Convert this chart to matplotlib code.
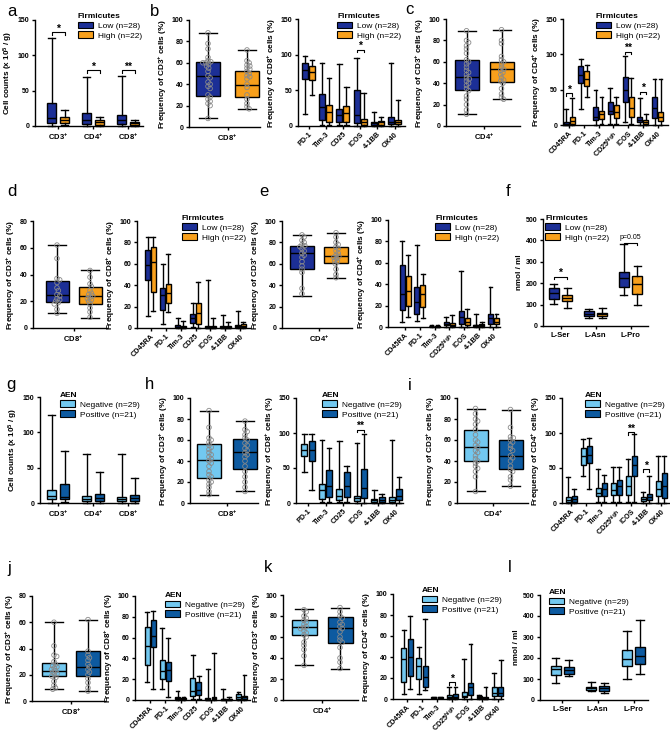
import matplotlib
matplotlib.use('Agg')
import matplotlib.pyplot as plt
from matplotlib.patches import Patch
import numpy as np

plt.rcParams['font.family'] = ['Liberation Sans', 'DejaVu Sans']
plt.rcParams['mathtext.fontset'] = 'custom'
plt.rcParams['mathtext.rm'] = 'Liberation Sans'
plt.rcParams['mathtext.bf'] = 'Liberation Sans:bold'
plt.rcParams['mathtext.default'] = 'regular'

# ---------------- colours & labels ----------------
LOW, HIGH = '#1c2f96', '#f8a01c'
NEG, POS = '#72c8f0', '#0d5aa0'
FIRM_LABELS = ['Low (n=28)', 'High (n=22)']
AEN_LABELS = ['Negative (n=29)', 'Positive (n=21)']

# ---------------- categories ----------------
count_cats = ['CD3$^{+}$', 'CD4$^{+}$', 'CD8$^{+}$']
cd8_cats = ['PD-1', 'Tim-3', 'CD25', 'ICOS', '4-1BB', 'OX40']
cd4_cats = ['CD45RA', 'PD-1', 'Tim-3', 'CD25$^{high}$', 'ICOS', '4-1BB', 'OX40']
cd8b_cats = ['CD45RA', 'PD-1', 'Tim-3', 'CD25', 'ICOS', '4-1BB', 'OX40']
aa_cats = ['L-Ser', 'L-Asn', 'L-Pro']
cd8_single = ['CD8$^{+}$']
cd4_single = ['CD4$^{+}$']

# ---------------- box statistics (min, q1, median, q3, max) ----------------
a_low = [(0.5, 4, 11, 33, 124), (0.5, 3, 9, 18, 69), (0.5, 3, 8, 16, 71)]
a_high = [(1, 4, 9, 13, 23), (0.5, 2, 5, 8, 13), (0.5, 2, 4, 6, 9)]

b1_low = [(8, 29, 48, 61, 88)]
b1_high = [(17, 28, 39, 52, 72)]
b2_low = [(17, 66, 78, 89, 98), (1, 8, 27, 45, 89), (1, 6, 15, 24, 87),
          (0, 4, 15, 50, 96), (0, 1, 4, 6, 19), (0, 3, 6, 12, 89)]
b2_high = [(44, 64, 76, 84, 92), (1, 6, 19, 29, 67), (1, 5, 18, 28, 54),
           (0, 2, 5, 10, 46), (0, 2, 5, 7, 13), (0, 3, 6, 9, 36)]

c1_low = [(11, 34, 46, 62, 89)]
c1_high = [(25, 41, 53, 60, 90)]
c2_low = [(0, 0.5, 2, 4, 22), (22, 59, 71, 83, 94), (0, 7, 12, 25, 50), (1, 15, 20, 33, 52),
          (4, 33, 50, 68, 97), (0, 4, 7, 12, 38), (0, 10, 24, 40, 65)]
c2_high = [(0, 2, 5, 11, 38), (40, 55, 65, 77, 85), (1, 8, 15, 20, 40), (2, 10, 19, 29, 40),
           (2, 11, 24, 39, 67), (0, 2, 4, 7, 15), (0, 5, 12, 19, 65)]

d1_low = [(11, 19.5, 25, 35, 62)]
d1_high = [(7.5, 18, 24, 31, 43)]
d2_low = [(11, 45, 59, 73, 85), (4, 17, 30.5, 37, 60), (0, 0.6, 1.2, 2.5, 9), (1, 5, 9, 13, 23),
          (0, 0.3, 1, 2, 45), (0, 0.3, 1, 2, 12), (0, 0.5, 1.5, 3, 16)]
d2_high = [(16, 34, 62, 76, 85), (15, 23, 33, 41, 69), (0, 0.3, 1, 2, 7), (0, 3.5, 14, 23, 43),
           (0, 0.3, 0.6, 2, 9), (0, 0.3, 1, 2, 6), (0, 0.5, 2, 4, 6)]

e1_low = [(30, 55, 70, 77, 87)]
e1_high = [(47, 61, 67, 76, 89)]
e2_low = [(5, 16, 31, 58, 80), (6, 12.5, 23, 37.5, 77), (0.3, 0.6, 1, 1.2, 2), (0, 1.5, 3, 5, 9),
          (0, 3, 9, 15, 52), (0, 0.5, 1.5, 2, 12), (0, 3, 8, 12.5, 37)]
e2_high = [(9, 20, 34, 48, 67), (8, 19, 31, 39, 50), (0, 0.3, 0.6, 1, 1.5), (0, 1, 2, 4, 11),
           (0, 2, 5, 8, 17), (0, 1, 2, 3, 5), (0, 2.5, 5, 8, 12.5)]

f_low = [(105, 125, 152, 178, 198), (37, 45, 58, 69, 81), (147, 183, 222, 253, 383)]
f_high = [(84, 116, 131, 144, 178), (39, 47, 55, 62, 86), (100, 150, 194, 233, 281)]

g_neg = [(0.5, 5, 10, 18, 124), (0.5, 3, 6, 10, 69), (0.5, 3, 6, 9, 70)]
g_pos = [(2, 5, 9, 27, 74), (0.5, 3, 7, 13, 44), (0.5, 3, 7, 12, 36)]

h1_neg = [(8, 24, 41, 56, 88)]
h1_pos = [(11, 32, 49, 61, 78)]
h2_neg = [(45, 67, 76, 84, 99), (1, 6, 18, 27, 90), (1, 5, 10, 20, 88),
          (0.5, 3, 7, 10, 86), (0, 2, 4, 6, 18), (0, 2, 5, 9, 90)]
h2_pos = [(18, 60, 76, 88, 98), (1, 9, 24, 47, 78), (1, 9, 24, 44, 53),
          (0.5, 7, 21, 49, 98), (0, 2, 5, 9, 13), (0, 5, 10, 20, 37)]

i1_neg = [(11, 40, 53, 69.5, 90)]
i1_pos = [(16, 32.5, 45, 60, 89)]
i2_neg = [(0, 2, 5, 9, 37), (39, 55, 67, 79, 91), (1, 9.5, 14, 21, 49), (2, 12, 19, 29, 52),
          (2, 12, 24, 39, 63), (0, 3, 6, 9, 16), (0, 9.5, 20, 32, 67)]
i2_pos = [(0, 2, 6, 10, 20), (20, 57, 68, 82, 93), (2, 10, 20, 29, 40), (2, 12, 24, 33, 52),
          (2, 38, 55, 67, 98), (0, 5, 9, 13, 39), (0, 7, 25, 43, 67)]

j1_neg = [(9, 19, 23, 29, 60)]
j1_pos = [(7.5, 19, 26, 38, 62)]
j2_neg = [(17, 34, 52, 70, 85), (11, 20, 28, 38, 69), (0, 0.6, 1.5, 2.5, 9), (1, 4, 9, 21, 43),
          (0, 0.3, 1, 1.5, 30), (0, 0.2, 0.5, 1, 11), (0, 1, 3, 6, 8)]
j2_pos = [(11, 51, 62, 77, 86), (3, 18, 29, 37, 60), (0, 0.5, 1.5, 2, 3), (1, 5, 10, 17, 23),
          (0, 0.5, 1.5, 3, 45), (0, 0.2, 0.5, 1, 2.5), (0, 1, 2.5, 4, 24)]

k1_neg = [(33, 62, 70, 76, 86.5)]
k1_pos = [(30, 54.5, 69, 79, 88)]
k2_neg = [(5, 16, 38, 49, 66), (5, 19, 31.5, 39, 50), (0.5, 1, 1.2, 1.5, 2), (0, 0.7, 1.5, 4, 11),
          (0, 1.5, 3, 7, 38), (0, 0.5, 1.5, 2.5, 4), (0, 2.5, 5.5, 11, 25)]
k2_pos = [(10, 22, 40, 57, 79.5), (9, 11, 21, 31, 76), (0.5, 1, 1.2, 1.5, 2), (0, 0.6, 2, 5, 11),
          (0, 4, 11, 15, 52), (0, 0.3, 0.6, 1.5, 11), (0, 2.5, 6, 11, 37)]

l_neg = [(82, 121, 148, 164, 200), (41, 47, 55, 63, 85), (101, 161, 196, 237, 330)]
l_pos = [(114, 126, 145, 158, 189), (35, 43, 58, 69, 79), (125, 172, 211, 252, 382)]

# ---------------- individual points (single-population panels) ----------------
b1_low_pts = [88, 78, 73, 65, 62, 61, 60, 60, 59, 57, 55, 52, 48, 46, 42, 40, 38, 36, 30, 28, 26, 24, 22, 20, 8]
b1_high_pts = [72, 62, 60, 58, 57, 55, 54, 52, 50, 48, 47, 45, 40, 37, 30, 26, 22, 19, 17]
c1_low_pts = [89, 80, 78, 75, 72, 68, 62, 60, 58, 55, 52, 50, 48, 45, 44, 42, 40, 38, 35, 33, 28, 25, 20, 15, 11]
c1_high_pts = [90, 80, 77, 65, 62, 60, 58, 55, 53, 52, 50, 48, 45, 43, 42, 40, 35, 30, 27, 25]
d1_low_pts = [62, 52, 37, 36, 34, 30, 28, 25, 24, 22, 21, 20, 19, 18, 14, 11]
d1_high_pts = [43, 38, 33, 31, 28, 26, 25, 24, 23, 22, 21, 20, 18, 15, 12, 8]
e1_low_pts = [87, 85, 82, 80, 78, 77, 76, 74, 72, 70, 68, 66, 62, 58, 55, 52, 37, 32]
e1_high_pts = [89, 85, 80, 78, 76, 74, 72, 70, 68, 67, 66, 65, 63, 62, 60, 55, 50, 47]
h1_neg_pts = [88, 72, 62, 60, 58, 55, 53, 51, 48, 46, 44, 42, 40, 38, 35, 30, 27, 25, 22, 20, 18, 15, 11, 8]
h1_pos_pts = [78, 70, 68, 65, 62, 60, 57, 55, 52, 50, 48, 46, 44, 40, 35, 30, 25, 20, 15, 11]
i1_neg_pts = [90, 85, 80, 78, 75, 70, 65, 60, 58, 55, 53, 50, 48, 45, 42, 40, 38, 35, 33, 30, 25, 11]
i1_pos_pts = [89, 72, 63, 62, 60, 58, 55, 52, 50, 45, 43, 40, 35, 32, 30, 25, 22, 16]
j1_neg_pts = [60, 42, 35, 34, 30, 28, 27, 26, 25, 24, 23, 22, 21, 20, 19, 18, 15, 12, 10, 9]
j1_pos_pts = [62, 38, 35, 33, 31, 28, 26, 24, 22, 20, 17, 14, 10, 7.5]
k1_neg_pts = [86, 84, 80, 78, 76, 74, 72, 70, 69, 68, 66, 64, 62, 60, 55, 52, 48, 42, 33]
k1_pos_pts = [88, 84, 80, 78, 74, 72, 70, 68, 65, 60, 57, 55, 50, 40, 36, 30]

# ---------------- drawing ----------------
W, H = 670, 735
fig = plt.figure(figsize=(6.7, 7.35), dpi=100)

TICK_FS = 5.0
LAB_FS = 5.9
CAT_FS = 5.5
ROT_FS = 5.2
LEG_FS = 6.0


def swarm(vals, ppu, d=3.0):
    placed, xs = [], []
    for v in vals:
        y = v * ppu
        cand = [0.0]
        for (px, py) in placed:
            dy = y - py
            if abs(dy) < d:
                dx = np.sqrt(d * d - dy * dy)
                cand += [px + dx, px - dx]
        cand.sort(key=abs)
        cx = 0.0
        for c in cand:
            if all((c - px) ** 2 + (y - py) ** 2 >= d * d - 1e-6 for px, py in placed):
                cx = c
                break
        placed.append((cx, y))
        xs.append(cx)
    return np.array(xs)


def panel(rect, cats, groups, cols, ytop, ystep, ylabel, c_first, c_last, off, bw,
          rot=False, legend=None, sig=(), points=None):
    x0, x1, y0, y1 = rect
    ax = fig.add_axes([x0 / W, 1 - y1 / H, (x1 - x0) / W, (y1 - y0) / H])
    n = len(cats)
    u = (c_last - c_first) / (n - 1) if n > 1 else 40.0
    ax.set_xlim((x0 - c_first) / u, (x1 - c_first) / u)
    ax.set_ylim(0, ytop)
    base = np.arange(n, dtype=float)
    offs = [-off / u, off / u]
    lw = 1.0
    for k, (g, c) in enumerate(zip(groups, cols)):
        stats = [dict(whislo=s[0], q1=s[1], med=s[2], q3=s[3], whishi=s[4], fliers=[]) for s in g]
        art = ax.bxp(stats, positions=base + offs[k], widths=bw / u, patch_artist=True,
                     showfliers=False, manage_ticks=False,
                     boxprops=dict(facecolor=c, edgecolor='black', linewidth=lw),
                     medianprops=dict(color='black', linewidth=lw),
                     whiskerprops=dict(color='black', linewidth=lw),
                     capprops=dict(color='black', linewidth=lw),
                     capwidths=bw / u * 0.75)
        for key in art:
            for a in art[key]:
                a.set_clip_on(False)
    if points is not None:
        ppu = (y1 - y0) / ytop
        for k, pts in enumerate(points):
            xs = swarm(pts, ppu) / u
            ax.scatter(base[0] + offs[k] + xs, pts, s=11, facecolors='none',
                       edgecolors='#8a8a8a', linewidths=0.6, zorder=5, clip_on=False)
    # axes styling
    for s in ['top', 'right']:
        ax.spines[s].set_visible(False)
    for s in ['left', 'bottom']:
        ax.spines[s].set_linewidth(1.0)
    ax.set_yticks(np.arange(0, ytop + 0.1, ystep))
    ax.set_yticklabels([f'{int(v)}' for v in np.arange(0, ytop + 0.1, ystep)],
                       fontsize=TICK_FS, fontweight='bold')
    ax.set_xticks(base)
    if rot:
        ax.set_xticklabels(cats, rotation=45, ha='right', rotation_mode='anchor',
                           fontsize=ROT_FS, fontweight='bold')
    else:
        ax.set_xticklabels(cats, fontsize=CAT_FS, fontweight='bold')
    ax.tick_params(axis='both', direction='out', length=2.5, width=1.0, pad=1.5)
    if rot:
        ax.tick_params(axis='x', pad=1.0)
    ax.set_ylabel(ylabel, fontsize=LAB_FS, fontweight='bold', labelpad=2)
    # legend
    if legend is not None:
        title, labels, (lx, ly) = legend
        handles = [Patch(facecolor=c, edgecolor='black', linewidth=0.8) for c in cols]
        ax.legend(handles=handles, labels=labels, title=title, loc='upper left',
                  bbox_to_anchor=((lx - x0) / (x1 - x0), (y1 - ly) / (y1 - y0)),
                  frameon=False, fontsize=LEG_FS,
                  title_fontproperties={'weight': 'bold', 'size': LEG_FS},
                  handlelength=1.8, handleheight=0.9, handletextpad=0.6,
                  labelspacing=0.18, borderpad=0, borderaxespad=0, alignment='left')
    # significance brackets
    t = ytop * 2.5 / (y1 - y0)
    for (ci, yv, txt) in sig:
        xa, xb = base[ci] + offs[0], base[ci] + offs[1]
        ax.plot([xa, xa, xb, xb], [yv - t, yv, yv, yv - t], color='black', lw=0.8, clip_on=False)
        if txt.startswith('p'):
            ax.text((xa + xb) / 2, yv + t * 0.8, txt, ha='center', va='bottom', fontsize=5)
        else:
            ax.text((xa + xb) / 2, yv + t * 0.2, txt, ha='center', va='baseline',
                    fontsize=7.5, fontweight='bold')
    return ax


YL_CNT = 'Cell counts (x 10$^{5}$ / g)'
YL_CD3 = 'Frequency of CD3$^{+}$ cells (%)'
YL_CD8 = 'Frequency of CD8$^{+}$ cells (%)'
YL_CD4 = 'Frequency of CD4$^{+}$ cells (%)'
YL_AA = 'nmol / ml'

# Row 1
panel((35, 143, 20, 126), count_cats, [a_low, a_high], [LOW, HIGH], 150, 50, YL_CNT,
      58, 128, 6.5, 9.5, legend=('Firmicutes', FIRM_LABELS, (78, 13)),
      sig=[(0, 133, '*'), (1, 79, '*'), (2, 79, '**')])
panel((189, 260, 20, 127), cd8_single, [b1_low, b1_high], [LOW, HIGH], 100, 20, YL_CD3,
      227.5, 227.5, 19.5, 24, points=[b1_low_pts, b1_high_pts])
panel((298, 405, 19, 126), cd8_cats, [b2_low, b2_high], [LOW, HIGH], 150, 50, YL_CD8,
      308.5, 394.5, 3.5, 6, rot=True, legend=('Firmicutes', FIRM_LABELS, (337, 13)),
      sig=[(3, 107, '*')])
panel((446, 520, 19, 126), cd4_single, [c1_low, c1_high], [LOW, HIGH], 100, 20, YL_CD3,
      484, 484, 17.5, 24, points=[c1_low_pts, c1_high_pts])
panel((563, 668, 19, 125), cd4_cats, [c2_low, c2_high], [LOW, HIGH], 150, 50, YL_CD4,
      569, 657.5, 3, 5, rot=True, legend=('Firmicutes', FIRM_LABELS, (596, 13)),
      sig=[(0, 45, '*'), (4, 104, '**'), (5, 47, '*')])

# Row 2
panel((33, 107, 221, 328), cd8_single, [d1_low, d1_high], [LOW, HIGH], 80, 20, YL_CD3,
      73.5, 73.5, 16.5, 23, points=[d1_low_pts, d1_high_pts])
panel((137, 250, 221, 328), cd8b_cats, [d2_low, d2_high], [LOW, HIGH], 100, 20, YL_CD8,
      150.5, 240.5, 2.7, 5, rot=True, legend=('Firmicutes', FIRM_LABELS, (182, 215)))
panel((282, 352, 221, 328), cd4_single, [e1_low, e1_high], [LOW, HIGH], 100, 20, YL_CD3,
      319, 319, 17, 24, points=[e1_low_pts, e1_high_pts])
panel((388, 500, 220, 327), cd4_cats, [e2_low, e2_high], [LOW, HIGH], 100, 20, YL_CD4,
      405, 493.5, 3, 5, rot=True, legend=('Firmicutes', FIRM_LABELS, (435, 215)))
panel((543, 648, 219, 326), aa_cats, [f_low, f_high], [LOW, HIGH], 500, 100, YL_AA,
      560.5, 630.5, 6.8, 10, legend=('Firmicutes', FIRM_LABELS, (545, 215)),
      sig=[(0, 231, '*'), (2, 390, 'p=0.05')])

# Row 3
panel((40, 138, 397, 503), count_cats, [g_neg, g_pos], [NEG, POS], 150, 50, YL_CNT,
      58, 128, 6.5, 9.5, legend=('AEN', AEN_LABELS, (60, 392)))
panel((190, 258, 398, 503), cd8_single, [h1_neg, h1_pos], [NEG, POS], 100, 20, YL_CD3,
      227, 227, 18, 24, points=[h1_neg_pts, h1_pos_pts])
panel((296, 403, 398, 503), cd8_cats, [h2_neg, h2_pos], [NEG, POS], 150, 50, YL_CD8,
      308, 395.5, 3.7, 6, rot=True, legend=('AEN', AEN_LABELS, (322, 392)),
      sig=[(3, 105, '**')])
panel((457, 528, 398, 503), cd4_single, [i1_neg, i1_pos], [NEG, POS], 100, 20, YL_CD3,
      493, 493, 17.5, 24, points=[i1_neg_pts, i1_pos_pts])
panel((562, 670, 398, 503), cd4_cats, [i2_neg, i2_pos], [NEG, POS], 150, 50, YL_CD4,
      571, 661, 3, 5, rot=True, legend=('AEN', AEN_LABELS, (585, 392)),
      sig=[(4, 101, '**'), (5, 48, '*')])

# Row 4
panel((32, 105, 596, 701), cd8_single, [j1_neg, j1_pos], [NEG, POS], 80, 20, YL_CD3,
      71, 71, 17, 24, points=[j1_neg_pts, j1_pos_pts])
panel((135, 250, 596, 700), cd8b_cats, [j2_neg, j2_pos], [NEG, POS], 100, 20, YL_CD8,
      150, 241.5, 3, 5, rot=True, legend=('AEN', AEN_LABELS, (165, 592)))
panel((283, 358, 595, 700), cd4_single, [k1_neg, k1_pos], [NEG, POS], 100, 20, YL_CD3,
      322, 322, 18, 25, points=[k1_neg_pts, k1_pos_pts])
panel((393, 500, 594, 699), cd4_cats, [k2_neg, k2_pos], [NEG, POS], 100, 20, YL_CD4,
      407, 497.5, 3.2, 5, rot=True, legend=('AEN', AEN_LABELS, (422, 587)),
      sig=[(3, 16, '*')])
panel((540, 648, 595, 700), aa_cats, [l_neg, l_pos], [NEG, POS], 500, 100, YL_AA,
      562, 633.5, 6.5, 10, legend=('AEN', AEN_LABELS, (549, 589)))

# panel letters
letters = [('a', 12, 12), ('b', 155, 12), ('c', 409, 9), ('d', 12, 192), ('e', 264, 192),
           ('f', 508, 191), ('g', 11, 385), ('h', 150, 384), ('i', 410, 385),
           ('j', 9, 569), ('k', 268, 568), ('l', 510, 568)]
for t, x, y in letters:
    fig.text(x / W, 1 - y / H, t, fontsize=12, ha='center', va='center')

fig.savefig('out.png', dpi=100, facecolor='white')
